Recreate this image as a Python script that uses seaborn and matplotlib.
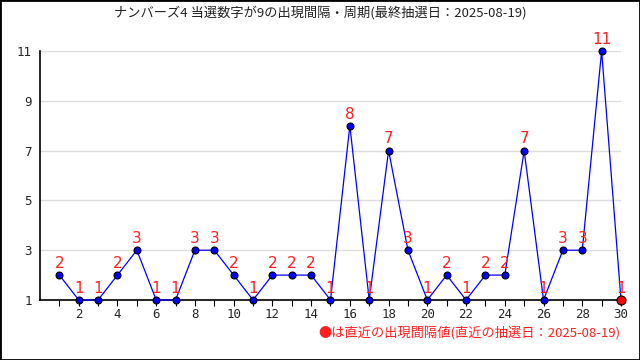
import numpy as np
import pandas as pd
import matplotlib
matplotlib.use('Agg')
import matplotlib.pyplot as plt
import seaborn as sns
from matplotlib.patches import Rectangle

# data
draws = list(range(1, 31))
intervals = [2, 1, 1, 2, 3, 1, 1, 3, 3, 2, 1, 2, 2, 2, 1,
             8, 1, 7, 3, 1, 2, 1, 2, 2, 7, 1, 3, 3, 11, 1]
y_ticks = [1, 3, 5, 7, 9, 11]
x_labels = [2, 4, 6, 8, 10, 12, 14, 16, 18, 20, 22, 24, 26, 28, 30]
title = 'ナンバーズ4 当選数字が9の出現間隔・周期(最終抽選日：2025-08-19)'
footer = '●は直近の出現間隔値(直近の抽選日：2025-08-19)'

df = pd.DataFrame({'draw': draws, 'interval': intervals})

sns.set_style('white')
plt.rcParams['font.family'] = ['Noto Sans CJK JP', 'DejaVu Sans']

fig = plt.figure(figsize=(6.4, 3.6), dpi=100)
ax = fig.add_axes([0.0625, 0.1667, 0.9078, 0.6917])

sns.lineplot(data=df, x='draw', y='interval', ax=ax, color='#0000ff',
             linewidth=0.9, marker='o', markersize=5,
             markerfacecolor='#0000ff', markeredgecolor='black',
             markeredgewidth=0.8, clip_on=False, zorder=3)

# last point in red
last = df.iloc[-1]
ax.plot(last['draw'], last['interval'], 'o', color='#ff0000', markersize=6.5,
        markeredgecolor='black', markeredgewidth=0.8, clip_on=False, zorder=4)

for d, v in zip(draws, intervals):
    ax.annotate(str(v), (d, v), xytext=(0, 3), textcoords='offset points',
                ha='center', va='bottom', color='#ff2020', fontsize=11,
                family=['DejaVu Sans'], zorder=5)

ax.set_xlim(0, 30)
ax.set_ylim(1, 11)
ax.set_xticks(draws, minor=True)
ax.set_xticks(x_labels)
ax.set_xticklabels([str(x) for x in x_labels], family=['DejaVu Sans Mono'], fontsize=9)
ax.set_yticks(y_ticks)
ax.set_yticklabels([str(y) for y in y_ticks], family=['DejaVu Sans Mono'], fontsize=9)
ax.tick_params(axis='x', which='both', direction='out', length=4, width=0.8,
               color='black', pad=2, bottom=True)
ax.tick_params(axis='y', length=0, pad=6)
ax.set_xlabel('')
ax.set_ylabel('')
ax.grid(axis='y', color='#dddddd', linewidth=1)
ax.grid(axis='x', visible=False)
for side in ['top', 'right']:
    ax.spines[side].set_visible(False)
for side in ['left', 'bottom']:
    ax.spines[side].set_color('black')
    ax.spines[side].set_linewidth(1.2)

fig.text(0.5, 0.965, title, ha='center', va='center', fontsize=9.5, color='#222222')
fig.text(0.97, 0.075, footer, ha='right', va='center', fontsize=9.5, color='#ff2020')

fig.patches.append(Rectangle((0, 0), 1, 1, transform=fig.transFigure,
                             fill=False, edgecolor='black', linewidth=2))

fig.savefig('out.png', dpi=100)
